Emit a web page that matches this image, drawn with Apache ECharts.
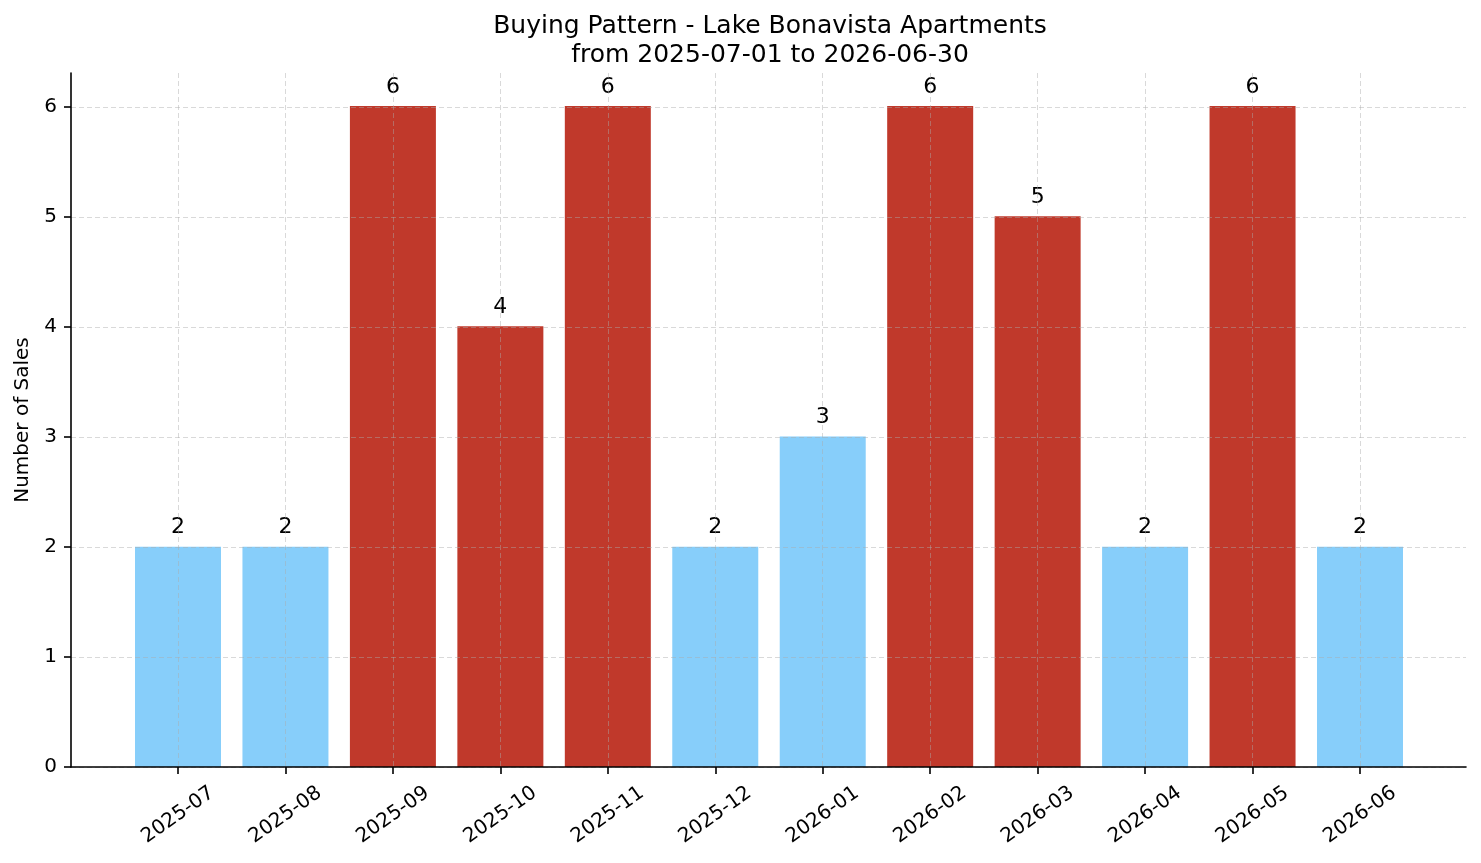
<!DOCTYPE html>
<html>
<head>
<meta charset="utf-8">
<script src="https://cdn.jsdelivr.net/npm/echarts@6/dist/echarts.min.js"></script>
<style>
  html, body { margin: 0; padding: 0; background: #fff; }
  #chart { width: 1481px; height: 863px; }
</style>
</head>
<body>
<div id="chart"></div>
<script>
// data
var months = ['2025-07', '2025-08', '2025-09', '2025-10', '2025-11', '2025-12',
              '2026-01', '2026-02', '2026-03', '2026-04', '2026-05', '2026-06'];
var sales = [2, 2, 6, 4, 6, 2, 3, 6, 5, 2, 6, 2];
var yTicks = [0, 1, 2, 3, 4, 5, 6];

var font = 'DejaVu Sans';
var hot = '#c0392b', cool = '#87cefa';
var gridLine = {show: true, lineStyle: {color: 'rgba(170,170,170,0.5)', type: [5, 3], width: 0.9}};

var myChart = echarts.init(document.getElementById('chart'));

var option = {
    animation: false,
    backgroundColor: '#fff',
    textStyle: {fontFamily: font},
    title: {
        text: 'Buying Pattern - Lake Bonavista Apartments\nfrom 2025-07-01 to 2026-06-30',
        left: 765, top: 7, textAlign: 'center',
        textStyle: {fontFamily: font, fontSize: 25, fontWeight: 'normal', color: '#000', lineHeight: 29}
    },
    grid: [
        // frame (axis lines, y 0..6.3)
        {left: 71, right: 15, top: 73, bottom: 96},
        // bars, category centres
        {left: 178, right: 121, top: 73, bottom: 96},
        // y ticks 0..6
        {left: 71, right: 15, top: 107, bottom: 96}
    ],
    xAxis: [
        {
            gridIndex: 0, type: 'value', min: 0, max: 1,
            axisLine: {show: true, lineStyle: {color: '#000', width: 1.6}},
            axisTick: {show: false}, axisLabel: {show: false}, splitLine: {show: false}
        },
        {
            gridIndex: 1, type: 'category', data: months, boundaryGap: false,
            axisLine: {show: false},
            axisTick: {show: true, inside: false, length: 7, lineStyle: {color: '#000', width: 1.6}},
            axisLabel: {
                rotate: 35, align: 'center', verticalAlign: 'middle', margin: 48,
                fontSize: 20, color: '#000', fontFamily: font
            },
            splitLine: gridLine
        },
        {
            gridIndex: 2, type: 'value', min: 0, max: 1, show: false
        }
    ],
    yAxis: [
        {
            gridIndex: 0, type: 'value', min: 0, max: 6.3,
            name: 'Number of Sales', nameLocation: 'middle', nameGap: 38,
            nameTextStyle: {fontSize: 20, color: '#000', fontFamily: font},
            axisLine: {show: true, lineStyle: {color: '#000', width: 1.6}},
            axisTick: {show: false}, axisLabel: {show: false}, splitLine: {show: false}
        },
        {
            gridIndex: 1, type: 'value', min: 0, max: 6.3, show: false
        },
        {
            gridIndex: 2, type: 'value', min: 0, max: 6, interval: 1,
            axisLine: {show: false},
            axisTick: {show: true, length: 7, lineStyle: {color: '#000', width: 1.6}},
            axisLabel: {
                fontSize: 20, color: '#000', margin: 14, fontFamily: font,
                formatter: function (v) { return yTicks.indexOf(v) >= 0 ? String(v) : ''; }
            },
            splitLine: gridLine
        }
    ],
    series: [{
        type: 'bar',
        xAxisIndex: 1, yAxisIndex: 1,
        data: sales,
        barWidth: 86,
        clip: false,
        z: -1,
        itemStyle: {
            color: function (p) { return p.value >= 4 ? hot : cool; }
        },
        label: {
            show: true, position: 'top', distance: 8,
            fontSize: 22, color: '#000', fontFamily: font
        }
    }]
};

myChart.setOption(option);
</script>
</body>
</html>
